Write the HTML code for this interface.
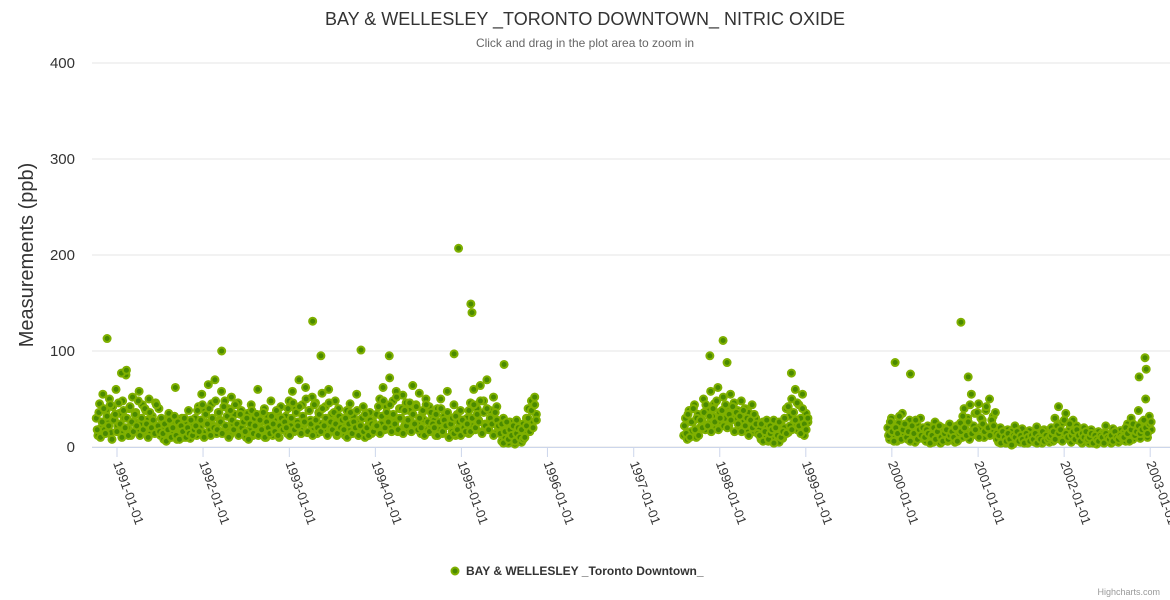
<!DOCTYPE html>
<html><head><meta charset="utf-8"><style>
html,body{margin:0;padding:0;background:#fff;}
svg{display:block;font-family:"Liberation Sans",sans-serif;}
</style></head><body>
<svg id="chart" width="1170" height="600">
<text x="585" y="25" text-anchor="middle" font-size="18" fill="#333">BAY &amp; WELLESLEY _TORONTO DOWNTOWN_ NITRIC OXIDE</text>
<text x="585" y="47" text-anchor="middle" font-size="12" fill="#666">Click and drag in the plot area to zoom in</text>
<text transform="translate(33,255) rotate(-90)" text-anchor="middle" font-size="20" fill="#333">Measurements (ppb)</text>
<g id="grid"></g><g id="xaxis"></g><g id="points"></g>
<g>
<circle cx="455" cy="571" r="3.5" fill="#4a8a00" stroke="#7fb000" stroke-width="2"/>
<text x="466" y="575" font-size="12" font-weight="bold" fill="#333">BAY &amp; WELLESLEY _Toronto Downtown_</text>
</g>
<text x="1160" y="595" text-anchor="end" font-size="9" fill="#999">Highcharts.com</text>
</svg>
<script>
const yTicks=[0,100,200,300,400];
const xTickYears=[1991,1992,1993,1994,1995,1996,1997,1998,1999,2000,2001,2002,2003];
const seg1Range=["1990-10-05","1995-11-15"];
const seg1Values=[30,12,45,20,55,18,38,25,50,15,42,28,60,22,35,14,48,30,75,20,40,12,52,26,36,18,58,24,44,16,38,28,50,14,32,22,46,18,40,12,
20,8,28,12,35,10,25,15,62,8,22,14,30,10,26,12,38,9,24,15,
30,12,42,20,55,15,38,25,65,18,45,22,70,14,36,28,58,16,48,20,40,12,52,24,34,16,46,20,38,14,
28,10,35,18,44,12,30,20,60,14,26,16,40,10,32,22,48,12,28,18,36,10,42,20,30,
32,14,48,22,58,16,40,26,70,18,44,24,62,15,38,28,52,20,46,14,36,24,56,18,42,22,60,16,34,26,48,12,40,20,30,
26,12,38,18,45,14,32,20,55,12,28,16,42,10,30,22,36,14,26,18,
34,16,50,24,62,18,42,28,72,20,48,26,58,16,40,30,54,22,46,18,38,26,64,20,44,24,56,14,36,28,50,18,42,22,32,
28,12,40,18,50,14,32,22,58,10,30,16,44,12,34,20,38,14,28,18,
30,14,46,22,60,18,40,28,64,16,48,24,70,20,38,26,52,14,42,20,
22,6,30,10,18,4,26,8,20,3,28,12,16,5,24,
14,30,40,20,48,26,52,34];
const seg1ValuesB=[18,36,10,26,40,14,32,22,44,8,28,34,16,46,24,10,38,20,30,12,42,26,16,34,22,48,12,30,18,40,24,10,36,20,28,14,44,22,16,30,
14,24,6,18,28,10,20,32,12,26,8,22,16,30,10,20,14,28,12,18,
22,38,16,28,44,10,34,24,40,12,30,20,48,18,36,26,14,42,22,32,10,38,28,18,44,24,12,34,20,26,
16,30,8,24,38,14,22,34,12,28,18,36,10,26,20,14,32,24,16,38,12,22,30,18,26,
20,40,12,30,46,18,36,22,42,14,32,26,50,16,38,24,12,44,28,20,34,16,40,22,30,12,46,26,18,36,24,14,32,20,28,
18,30,10,24,36,14,26,20,38,12,22,30,16,34,20,12,28,24,16,22,
22,42,14,32,48,20,36,26,44,16,34,24,52,18,30,40,14,38,22,28,46,16,34,24,42,18,30,20,38,12,44,26,16,36,24,
20,34,12,26,40,16,28,22,36,10,24,30,14,32,18,26,12,28,20,16,
24,38,16,30,44,20,34,26,48,14,36,22,40,18,30,24,12,36,28,22,
14,24,4,16,26,8,18,12,22,6,14,20,10,18,8,
10,22,30,16,38,20,44,28];
const seg2Range=["1997-08-01","1999-01-10"];
const seg2Values=[12,30,8,38,16,26,44,10,34,20,
28,50,18,40,24,58,32,45,20,62,36,26,52,30,42,22,55,34,46,28,
38,20,48,26,40,18,36,24,44,16,30,22,
18,8,26,12,20,6,22,10,28,14,16,5,24,9,
20,40,15,32,50,24,60,18,44,30,55,12,35,26];
const seg2ValuesB=[22,14,34,10,26,40,18,30,12,28,
20,36,44,22,32,16,40,26,48,18,30,38,22,44,20,34,28,42,16,36,
24,32,16,38,22,30,12,28,20,34,24,14,
12,24,6,16,28,8,14,18,4,20,12,26,10,16,
30,14,42,22,18,36,28,46,22,14,40,24,18,30];
const seg3Range=["1999-12-15","2003-01-05"];
const seg3Values=[20,8,30,12,18,6,25,10,35,14,22,8,28,11,16,5,24,12,30,9,
15,6,22,10,18,5,26,9,14,4,20,8,12,6,24,10,16,5,22,8,
25,10,40,15,30,8,55,18,35,12,45,20,28,10,38,14,50,16,32,12,
14,5,20,8,12,4,18,6,16,3,22,7,14,5,19,8,11,4,17,6,13,5,21,9,15,4,18,7,12,5,
20,6,30,10,42,8,25,12,35,9,18,5,28,11,22,7,14,4,20,8,
12,4,18,7,10,3,16,6,14,5,22,8,11,4,19,6,13,5,17,7,
15,6,24,10,30,8,20,12,38,9,26,14,50,10,32,18];
const seg3ValuesB=[12,26,16,6,20,14,32,8,18,24,10,16,6,22,14,28,8,18,12,20,
10,18,14,4,12,20,8,16,22,10,6,14,18,8,12,16,10,20,6,14,
16,32,20,12,26,44,14,22,18,36,10,30,24,16,42,20,12,28,22,36,
8,12,4,16,10,6,14,8,2,12,10,16,6,12,8,4,14,10,6,12,8,14,4,10,8,16,6,12,8,10,
12,16,8,22,14,18,6,28,14,10,24,12,16,8,18,12,6,14,10,16,
8,10,14,4,12,8,6,12,10,4,14,10,8,12,6,16,10,8,12,10,
10,20,14,6,18,24,12,16,22,14,18,28,20,14,24,26];
const outlierDates=["1990-11-20","1991-01-20","1991-02-10","1992-03-20","1993-04-10","1993-05-15","1993-11-01","1994-03-01","1994-12-01","1994-12-20","1995-02-10","1995-02-15","1995-07-01","1997-11-20","1998-01-15","1998-02-01","1998-11-01","2000-01-15","2000-03-20","2000-10-20","2000-11-20","2002-11-15","2002-12-10","2002-12-15"];
const outlierValues=[113,77,80,100,131,95,101,95,97,207,149,140,86,95,111,88,77,88,76,130,73,73,93,81];

const NS="http://www.w3.org/2000/svg";
const x0=Date.UTC(1991,0,1), x0px=117, pxPerMs=86.1/(365.25*864e5);
function xs(t){return x0px+(t-x0)*pxPerMs;}
function ys(v){return 447-v*0.96;}
function parse(d){const p=d.split("-");return Date.UTC(+p[0],+p[1]-1,+p[2]);}
function mk(tag,attrs,parent){const e=document.createElementNS(NS,tag);for(const k in attrs)e.setAttribute(k,attrs[k]);parent.appendChild(e);return e;}
const grid=document.getElementById("grid"),xa=document.getElementById("xaxis"),pts=document.getElementById("points");
yTicks.forEach(v=>{
  const l=mk("line",{x1:92,x2:1170,y1:ys(v),y2:ys(v),stroke:"#e6e6e6"},grid);
  
  
  const t=mk("text",{x:75,y:ys(v)+5,"text-anchor":"end","font-size":15,fill:"#333"},grid);
  t.textContent=v;
  
  
});
const ax=mk("line",{x1:92,x2:1170,y1:447.5,y2:447.5,stroke:"#ccd6eb"},xa);


xTickYears.forEach(y=>{
  const x=xs(Date.UTC(y,0,1));
  const tk=mk("line",{x1:x,x2:x,y1:447,y2:457,stroke:"#ccd6eb"},xa);
  
  
  const t=mk("text",{x:x-4,y:463,"font-size":13,fill:"#333",transform:`rotate(70 ${x-4} 463)`},xa);
  t.textContent=y+"-01-01";
  
  
});
function drawPoint(t,v){
  const c=mk("circle",{cx:xs(t),cy:ys(v),r:3.5,fill:"#4a8a00",stroke:"#7fb000","stroke-width":2},pts);
  
  
}
function drawSeg(range,vals,shiftDays){
  const a=parse(range[0])+shiftDays*864e5,b=parse(range[1]),n=vals.length;
  vals.forEach((v,i)=>drawPoint(a+(b-a)*i/(n-1),v));
}
drawSeg(seg1Range,seg1Values,0);
drawSeg(seg1Range,seg1ValuesB,4);
drawSeg(seg2Range,seg2Values,0);
drawSeg(seg2Range,seg2ValuesB,3);
drawSeg(seg3Range,seg3Values,0);
drawSeg(seg3Range,seg3ValuesB,3);
outlierDates.forEach((d,i)=>drawPoint(parse(d),outlierValues[i]));
</script>
</body></html>
